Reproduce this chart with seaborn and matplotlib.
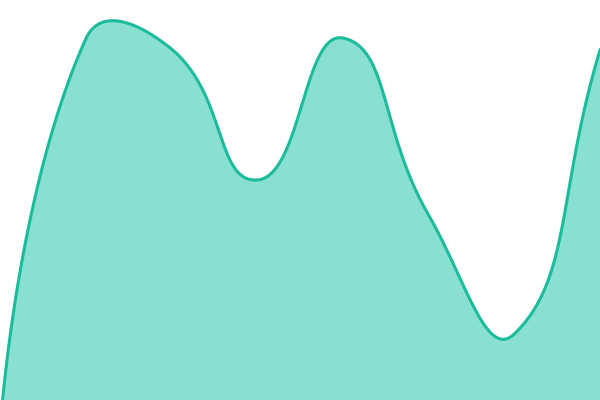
import numpy as np
import pandas as pd
import seaborn as sns
import matplotlib
matplotlib.use("Agg")
import matplotlib.pyplot as plt

# data (0..400 value range)
categories = ["A", "B", "C", "D", "E", "F", "G", "H"]
values = [-30, 361, 351, 220, 362, 185, 66, 350]

LINE_COLOR = "#1abc9c"
FILL_COLOR = "#8ae0d0"

"""
smooth_curve: bezier smoothing like echarts' smooth line

arguments:
    xs:     positions (pixel-ish units)
    ys:     values
    smooth: float
"""
def smooth_curve(xs, ys, smooth=0.5, steps=60):
    n = len(xs)
    out_x, out_y = [xs[0]], [ys[0]]
    cp0 = (xs[0], ys[0])
    for i in range(1, n):
        x, y = xs[i], ys[i]
        px, py = xs[i - 1], ys[i - 1]
        if i + 1 < n:
            nx, ny = xs[i + 1], ys[i + 1]
        else:
            nx, ny = x, y
        vx, vy = nx - px, ny - py
        len_prev = np.hypot(x - px, y - py)
        len_next = np.hypot(nx - x, ny - y)
        ratio = len_next / (len_next + len_prev) if (len_next + len_prev) else 0
        cp1 = (x - vx * smooth * (1 - ratio), y - vy * smooth * (1 - ratio))
        next_cp0 = (x + vx * smooth * ratio, y + vy * smooth * ratio)
        t = np.linspace(0, 1, steps)[1:]
        bx = ((1 - t) ** 3 * px + 3 * (1 - t) ** 2 * t * cp0[0]
              + 3 * (1 - t) * t ** 2 * cp1[0] + t ** 3 * x)
        by = ((1 - t) ** 3 * py + 3 * (1 - t) ** 2 * t * cp0[1]
              + 3 * (1 - t) * t ** 2 * cp1[1] + t ** 3 * y)
        out_x.extend(bx)
        out_y.extend(by)
        cp0 = next_cp0
    return np.array(out_x), np.array(out_y)


step = 600 / (len(categories) - 1)
xs = np.arange(len(categories)) * step
cx, cy = smooth_curve(xs, np.array(values, dtype=float))
curve = pd.DataFrame({"x": cx, "y": cy})

fig = plt.figure(figsize=(6, 4), dpi=100)
ax = fig.add_axes([0, 0, 1, 1])
ax.fill_between(curve["x"], curve["y"], -100, color=FILL_COLOR, linewidth=0)
sns.lineplot(data=curve, x="x", y="y", ax=ax, color=LINE_COLOR, linewidth=2.2,
             sort=False, estimator=None)
ax.set_xlim(0, 600)
ax.set_ylim(0, 400)
ax.axis("off")
fig.savefig("out.png", dpi=100)
